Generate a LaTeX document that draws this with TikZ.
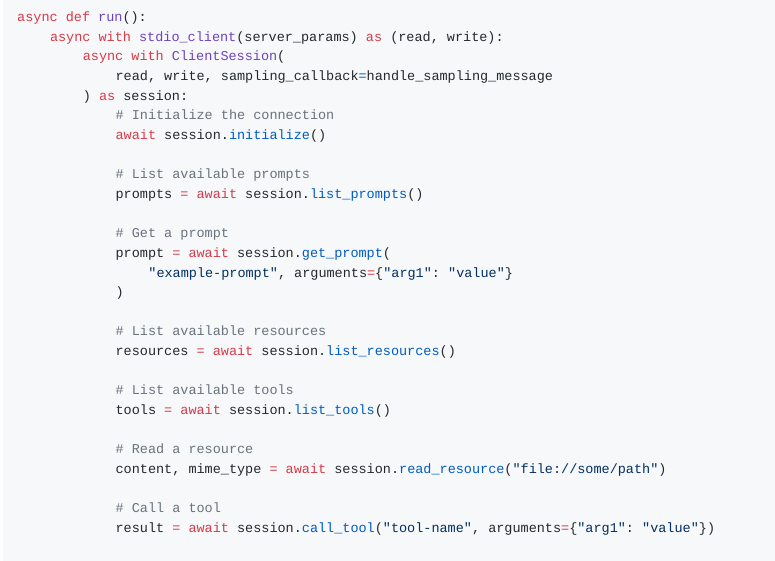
\documentclass[tikz,border=0pt]{standalone}
\usepackage{fontspec}
\setmonofont{Liberation Mono}
\definecolor{bgc}{HTML}{F6F8FA}
\definecolor{kw}{HTML}{D73A49}
\definecolor{fn}{HTML}{6F42C1}
\definecolor{mt}{HTML}{005CC5}
\definecolor{st}{HTML}{032F62}
\definecolor{cm}{HTML}{6A737D}
\definecolor{tx}{HTML}{24292E}
\newcommand{\K}[1]{\textcolor{kw}{#1}}
\newcommand{\F}[1]{\textcolor{fn}{#1}}
\newcommand{\M}[1]{\textcolor{mt}{#1}}
\newcommand{\Str}[1]{\textcolor{st}{#1}}
\newcommand{\Cm}[1]{\textcolor{cm}{#1}}
\begin{document}
\begin{tikzpicture}[x=1pt,y=-1pt,
  code/.style={anchor=base west,inner sep=0pt,text=tx,font=\ttfamily\fontsize{13.5}{16}\selectfont}]
\useasboundingbox (0,0) rectangle (775,561);
\fill[bgc] (3,0) rectangle (775,561);
\def\L{19.654}
\def\X{8.2}
\node[code] (l0) at (17,21.5) {\K{async def} \F{run}():};
\node[code] (l1) at ({17+4*\X},21.5+1*\L) {\K{async with} \F{stdio\_client}(server\_params) \K{as} (read, write):};
\node[code] (l2) at ({17+8*\X},21.5+2*\L) {\K{async with} \F{ClientSession}(};
\node[code] (l3) at ({17+12*\X},21.5+3*\L) {read, write, sampling\_callback\M{=}handle\_sampling\_message};
\node[code] (l4) at ({17+8*\X},21.5+4*\L) {) \K{as} session:};
\node[code] (l5) at ({17+12*\X},21.5+5*\L) {\Cm{\# Initialize the connection}};
\node[code] (l6) at ({17+12*\X},21.5+6*\L) {\K{await} session.\M{initialize}()};
\node[code] (l8) at ({17+12*\X},21.5+8*\L) {\Cm{\# List available prompts}};
\node[code] (l9) at ({17+12*\X},21.5+9*\L) {prompts \K{=} \K{await} session.\M{list\_prompts}()};
\node[code] (l11) at ({17+12*\X},21.5+11*\L) {\Cm{\# Get a prompt}};
\node[code] (l12) at ({17+12*\X},21.5+12*\L) {prompt \K{=} \K{await} session.\M{get\_prompt}(};
\node[code] (l13) at ({17+16*\X},21.5+13*\L) {\Str{"example-prompt"}, arguments\K{=}\{\Str{"arg1"}: \Str{"value"}\}};
\node[code] (l14) at ({17+12*\X},21.5+14*\L) {)};
\node[code] (l16) at ({17+12*\X},21.5+16*\L) {\Cm{\# List available resources}};
\node[code] (l17) at ({17+12*\X},21.5+17*\L) {resources \K{=} \K{await} session.\M{list\_resources}()};
\node[code] (l19) at ({17+12*\X},21.5+19*\L) {\Cm{\# List available tools}};
\node[code] (l20) at ({17+12*\X},21.5+20*\L) {tools \K{=} \K{await} session.\M{list\_tools}()};
\node[code] (l22) at ({17+12*\X},21.5+22*\L) {\Cm{\# Read a resource}};
\node[code] (l23) at ({17+12*\X},21.5+23*\L) {content, mime\_type \K{=} \K{await} session.\M{read\_resource}(\Str{"file://some/path"})};
\node[code] (l25) at ({17+12*\X},21.5+25*\L) {\Cm{\# Call a tool}};
\node[code] (l26) at ({17+12*\X},21.5+26*\L) {result \K{=} \K{await} session.\M{call\_tool}(\Str{"tool-name"}, arguments\K{=}\{\Str{"arg1"}: \Str{"value"}\})};
\end{tikzpicture}
\end{document}
